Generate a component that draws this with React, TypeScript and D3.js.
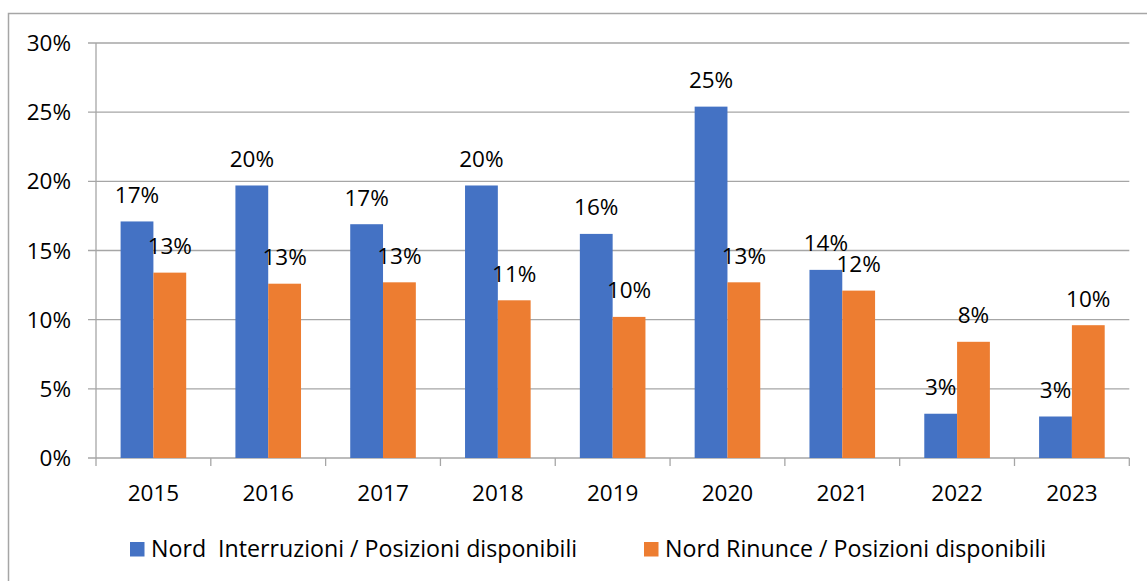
import * as d3 from "d3";

const years = ["2015", "2016", "2017", "2018", "2019", "2020", "2021", "2022", "2023"];
const interruzioni = [17.1, 19.7, 16.9, 19.7, 16.2, 25.4, 13.6, 3.2, 3.0];
const rinunce = [13.4, 12.6, 12.7, 11.4, 10.2, 12.7, 12.1, 8.4, 9.6];
const seriesNames = ["Nord  Interruzioni / Posizioni disponibili", "Nord Rinunce / Posizioni disponibili"];
const seriesColors = ["#4472C4", "#ED7D31"];
const yTicks = [0, 5, 10, 15, 20, 25, 30];

const W = 1147;
const H = 581;
const font = "'Open Sans', Lato, sans-serif";
const fs = 22.5;

export default function App() {
  // area del grafico
  const left = 96;
  const right = 1129.3;
  const top = 43;
  const bottom = 458;

  const x0 = d3.scaleBand<string>()
    .domain(years)
    .range([left, right])
    .paddingInner(0.75 / 1.75)
    .paddingOuter(0.75 / 3.5);

  const x1 = d3.scaleBand<number>()
    .domain([0, 1])
    .range([0, x0.bandwidth()]);

  const y = d3.scaleLinear().domain([0, 30]).range([bottom, top]);

  const step = x0.step();
  const series = [interruzioni, rinunce];

  return (
    <svg width={W} height={H} style={{ position: "absolute", left: 0, top: 0, background: "#fff" }}>
      {/* cornice */}
      <rect x={8.5} y={13.5} width={1160} height={600} fill="none" stroke="#a6a6a6" strokeWidth={1.5} />

      {/* griglia e tacche asse y */}
      {yTicks.map(t => (
        <g key={t}>
          <line x1={88} x2={right} y1={y(t)} y2={y(t)} stroke="#a6a6a6" strokeWidth={1.3} />
          <text x={71} y={y(t)} dy="0.36em" textAnchor="end" fontFamily={font} fontSize={fs} fill="#000">
            {t}%
          </text>
        </g>
      ))}
      <line x1={left} x2={left} y1={top} y2={bottom + 8} stroke="#a6a6a6" strokeWidth={1.3} />

      {/* tacche asse x */}
      {years.map((d, i) => (
        <line key={d} x1={left + (i + 1) * step} x2={left + (i + 1) * step} y1={bottom} y2={bottom + 8}
          stroke="#a6a6a6" strokeWidth={1.3} />
      ))}

      {/* barre */}
      {series.map((vals, s) =>
        vals.map((v, i) => (
          <rect key={`${s}-${i}`}
            x={(x0(years[i]) ?? 0) + (x1(s) ?? 0)}
            y={y(v)}
            width={x1.bandwidth()}
            height={bottom - y(v)}
            fill={seriesColors[s]} />
        ))
      )}

      {/* etichette */}
      {series.map((vals, s) =>
        vals.map((v, i) => (
          <text key={`l${s}-${i}`}
            x={(x0(years[i]) ?? 0) + (x1(s) ?? 0) + x1.bandwidth() / 2}
            y={y(v) - 18.5}
            textAnchor="middle" fontFamily={font} fontSize={fs} fill="#000">
            {Math.round(v)}%
          </text>
        ))
      )}

      {/* etichette anni */}
      {years.map(d => (
        <text key={`y${d}`} x={(x0(d) ?? 0) + x0.bandwidth() / 2} y={501} textAnchor="middle"
          fontFamily={font} fontSize={fs} fill="#000">
          {d}
        </text>
      ))}

      {/* legenda */}
      {seriesNames.map((n, s) => {
        const lx = s === 0 ? 130 : 644;
        return (
          <g key={n}>
            <rect x={lx} y={542} width={14.5} height={14.5} fill={seriesColors[s]} />
            <text x={lx + 21} y={549} dy="0.36em" fontFamily={font} fontSize={23.2} fill="#000"
              style={{ whiteSpace: "pre" }}>
              {n}
            </text>
          </g>
        );
      })}
    </svg>
  );
}
